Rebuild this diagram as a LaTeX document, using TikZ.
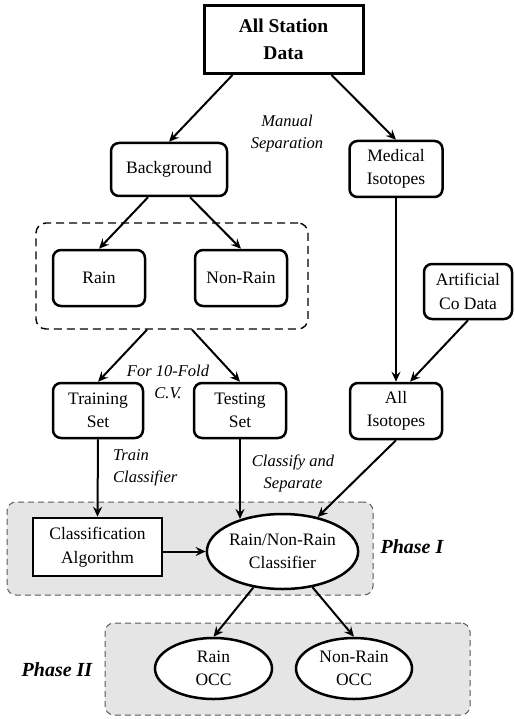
\documentclass[tikz,border=0pt]{standalone}
\usepackage{fontspec}
\setmainfont{Liberation Serif}
\usetikzlibrary{arrows.meta,shapes.geometric}
\begin{document}
\begin{tikzpicture}[x=1pt,y=-1pt,
  box/.style={draw,line width=2.5pt,rounded corners=8pt,inner sep=0pt,align=center,fill=white,
    font=\fontsize{17.5}{23.5}\selectfont},
  sqbox/.style={box,rounded corners=0pt},
  ell/.style={ellipse,draw,line width=2.5pt,fill=white,inner sep=0pt,align=center,
    font=\fontsize{17.5}{23.5}\selectfont},
  lab/.style={font=\itshape\fontsize{16.5}{22}\selectfont,align=center,inner sep=0pt},
  phaselab/.style={font=\bfseries\itshape\fontsize{20}{24}\selectfont,inner sep=0pt},
  grp/.style={draw=black!65,dash pattern=on 6pt off 4pt,line width=1pt,fill=black!10,
    rounded corners=9pt,inner sep=0pt},
  cont/.style={draw,dash pattern=on 8pt off 5pt,line width=1.4pt,rounded corners=10pt,inner sep=0pt},
  arr/.style={-{Stealth[length=10pt,width=9pt,inset=3.5pt]},line width=2pt},
]
\useasboundingbox (0,0) rectangle (514,719);

% phase backgrounds
\node[grp,minimum width=366pt,minimum height=93pt] (ph1) at (190,548.5) {};
\node[grp,minimum width=365pt,minimum height=92pt] (ph2) at (287.5,669) {};
\node[phaselab] (ph1lab) at (412,547) {Phase I};
\node[phaselab] (ph2lab) at (57,670) {Phase II};

% nodes
\node[sqbox,line width=3pt,minimum width=159pt,minimum height=68pt,
  font=\bfseries\fontsize{19.5}{27}\selectfont] (top) at (283.5,39.5) {All Station\\Data};
\node[box,minimum width=116pt,minimum height=53pt] (bg) at (169,169.5) {Background};
\node[box,minimum width=93pt,minimum height=56pt] (med) at (396,169) {Medical\\Isotopes};
\node[cont,minimum width=272pt,minimum height=106pt] (grpbox) at (172,276) {};
\node[box,minimum width=92pt,minimum height=56pt] (rain) at (99,278) {Rain};
\node[box,minimum width=92pt,minimum height=56pt] (nonrain) at (241,278) {Non-Rain};
\node[box,minimum width=88pt,minimum height=55pt] (art) at (468,291.5) {Artificial\\Co Data};
\node[box,minimum width=90pt,minimum height=55pt] (train) at (98,410.5) {Training\\Set};
\node[box,minimum width=92pt,minimum height=55pt] (test) at (240,410.5) {Testing\\Set};
\node[box,minimum width=92pt,minimum height=56pt] (alliso) at (396,411) {All\\Isotopes};
\node[sqbox,minimum width=129pt,minimum height=58pt] (algo) at (97.5,547) {Classification\\Algorithm};
\node[ell,minimum width=137pt,minimum height=75pt] (clf) at (282.5,551.5) {Rain/Non-Rain\\Classifier};
\node[ell,minimum width=117pt,minimum height=61pt] (rocc) at (213.5,668.5) {Rain\\OCC};
\node[ell,minimum width=116pt,minimum height=61pt] (nrocc) at (354,668.5) {Non-Rain\\OCC};

% labels
\node[lab] (l1) at (287,134) {Manual\\Separation};
\node[lab] (l2) at (168,382) {For 10-Fold\\C.V.};
\node[lab,align=left,anchor=west] (l3) at (113,468) {Train\\Classifier};
\node[lab] (l4) at (293,473) {Classify and\\Separate};

% connectors
\draw[arr] ([xshift=-51pt]top.south) -- (bg.north);
\draw[arr] ([xshift=48pt]top.south) -- (med.north);
\draw[arr] ([xshift=-21pt]bg.south) -- (rain.north);
\draw[arr] ([xshift=21pt]bg.south) -- (nonrain.north);
\draw[arr] (med.south) -- (alliso.north);
\draw[arr] (art.south) -- ([xshift=14pt]alliso.north);
\draw[arr] ([xshift=-25pt]grpbox.south) -- (train.north);
\draw[arr] ([xshift=20pt]grpbox.south) -- (test.north);
\draw[arr] (train.south) -- (algo.north);
\draw[arr] (test.south) -- (test.south |- clf.142);
\draw[arr] (alliso.south) -- (clf);
\draw[arr] (algo.east |- clf.west) -- (clf.west);
\draw[arr] (clf) -- (rocc.north);
\draw[arr] (clf) -- (nrocc.north);
\end{tikzpicture}
\end{document}
